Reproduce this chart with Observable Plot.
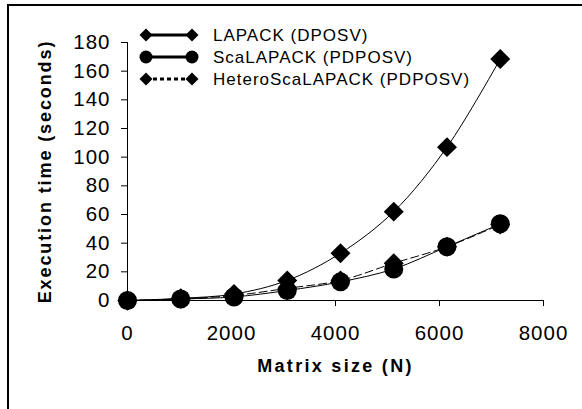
<!DOCTYPE html>
<html><head><meta charset="utf-8">
<script src="https://cdn.jsdelivr.net/npm/d3@7"></script>
<script src="https://cdn.jsdelivr.net/npm/@observablehq/plot@0.6"></script>
<style>
html,body{margin:0;padding:0;background:#fff;overflow:hidden;}
#wrap{position:relative;width:582px;height:409px;overflow:hidden;font-family:"Liberation Sans",Arial,sans-serif;background:#fff;}
#wrap > svg{position:absolute;left:0;top:0;}
#border{position:absolute;left:7px;top:4px;width:700px;height:600px;border-left:2px solid #000;border-top:2px solid #000;pointer-events:none;}
</style></head><body><div id="wrap"><div id="border"></div></div>
<script>
// ---- data ----
const matrixSize = [0, 1024, 2048, 3072, 4096, 5120, 6144, 7168];
const lapack     = [0, 1.5, 4.5, 14, 33, 62, 107, 168.5];
const scalapack  = [0, 1, 2.5, 7, 13, 22, 37.5, 53.5];
const hetero     = [0, 1.2, 3.5, 8.5, 14, 26, 37.5, 53];
const seriesNames = ["LAPACK (DPOSV)", "ScaLAPACK (PDPOSV)", "HeteroScaLAPACK (PDPOSV)"];
const xTicks = [0, 2000, 4000, 6000, 8000];
const yTicks = [0, 20, 40, 60, 80, 100, 120, 140, 160, 180];
const xTitle = "Matrix size (N)";
const yTitle = "Execution time (seconds)";

const seriesValues = [lapack, scalapack, hetero];
const symbols = ["diamond2", "circle", "diamond2"];
const dashes = [null, null, "8,4"];
const rows = [];
seriesNames.forEach((s, i) => matrixSize.forEach((n, j) => rows.push({series: s, n, t: seriesValues[i][j]})));

const marks = [
  Plot.ruleX([0], {stroke: "#000", strokeWidth: 1}),
  Plot.ruleY([0], {stroke: "#000", strokeWidth: 1}),
  Plot.axisY({ticks: yTicks, tickFormat: d3.format("d"), tickSize: 6, tickPadding: 11, fontSize: 20.5, label: null, stroke: "#000"}),
  Plot.axisX({ticks: xTicks, tickFormat: d3.format("d"), tickSize: 6, tickPadding: 19, fontSize: 20.5, label: null, stroke: "#000"}),
  Plot.text([xTitle], {frameAnchor: "bottom", textAnchor: "middle", dy: 71, fontSize: 18, fontWeight: "bold", fill: "#000"}),
  Plot.text([yTitle], {frameAnchor: "left", textAnchor: "middle", dx: -82, rotate: -90, fontSize: 18, fontWeight: "bold", fill: "#000"})
];
seriesNames.forEach((s, i) => {
  const d = rows.filter(r => r.series === s);
  marks.push(Plot.line(d, {x: "n", y: "t", curve: "catmull-rom", stroke: "#000", strokeWidth: 1, strokeDasharray: dashes[i]}));
  marks.push(Plot.dot(d, {x: "n", y: "t", symbol: symbols[i], r: symbols[i] === "circle" ? 9.5 : 9, fill: "#000", stroke: "none"}));
});

const chart = Plot.plot({
  width: 582, height: 409,
  marginLeft: 127, marginRight: 39, marginTop: 42, marginBottom: 109,
  style: {fontFamily: "Liberation Sans, Arial, sans-serif", color: "#000", background: "transparent"},
  x: {domain: [0, 8000]},
  y: {domain: [0, 180]},
  marks
});
const wrap = document.getElementById("wrap");
wrap.insertBefore(chart, document.getElementById("border"));

// letter spacing to mimic the wide original rendering
d3.select(chart).selectAll("text").each(function () {
  const t = this.textContent;
  if (t === xTitle) this.style.letterSpacing = "2.3px";
  else if (t === yTitle) this.style.letterSpacing = "1.9px";
  else if (/^\d+$/.test(t)) this.style.letterSpacing = "1px";
});

// ---- legend ----
const leg = d3.select(wrap).append("svg")
  .attr("width", 582).attr("height", 409)
  .style("position", "absolute").style("left", "0px").style("top", "0px")
  .style("font-family", "Liberation Sans, Arial, sans-serif");
const rowY = [35, 57, 79];
seriesNames.forEach((s, i) => {
  const g = leg.append("g").attr("transform", `translate(0,${rowY[i]})`);
  g.append("line").attr("x1", 146).attr("x2", 192).attr("y1", 0).attr("y2", 0)
    .attr("stroke", "#000").attr("stroke-width", 3)
    .attr("stroke-dasharray", dashes[i] ? "4,3" : null);
  [146, 192].forEach(cx => {
    if (symbols[i] === "circle") {
      g.append("circle").attr("cx", cx).attr("cy", 0).attr("r", 6.5).attr("fill", "#000");
    } else {
      g.append("path").attr("d", `M${cx},-6.5L${cx + 6.5},0L${cx},6.5L${cx - 6.5},0Z`).attr("fill", "#000");
    }
  });
  g.append("text").attr("x", 213).attr("y", 0).attr("dy", "0.35em")
    .attr("font-size", 17).style("letter-spacing", "1px").attr("fill", "#000").text(s);
});
</script></body></html>
